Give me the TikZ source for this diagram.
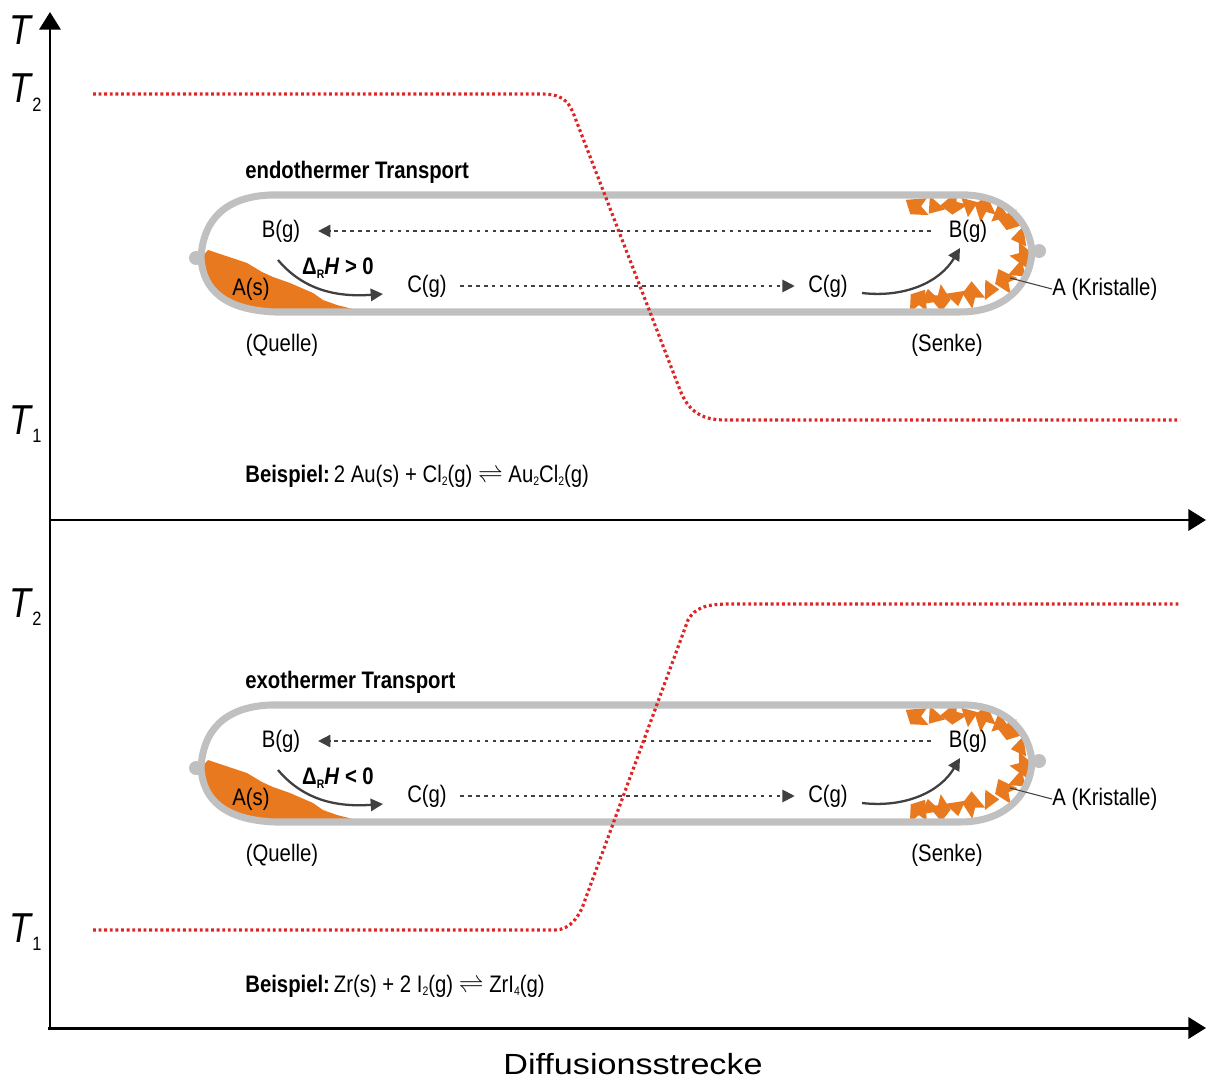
\documentclass[tikz,border=0pt]{standalone}
\usepackage{fontspec}
\setmainfont{Liberation Sans}[FakeStretch=0.85]
\newfontfamily\axisfont{Liberation Sans}[FakeStretch=1.17]
\usetikzlibrary{arrows.meta, positioning}

\definecolor{tubegray}{RGB}{192,192,192}
\definecolor{crystalorange}{RGB}{232,121,30}
\definecolor{gasgray}{RGB}{64,64,64}
\definecolor{tempred}{RGB}{225,35,35}

\newcommand{\gasfont}{\fontsize{13.6}{16}\selectfont}
\newcommand{\sub}[1]{\raisebox{-0.3ex}{\fontsize{7}{7}\selectfont #1}}
\newcommand{\Tlab}[1]{\textit{T}\kern-0.5pt\raisebox{-0.2em}{\fontsize{11}{11}\selectfont #1}}

\begin{document}
\begin{tikzpicture}[
    x=0.02cm, y=-0.02cm,
    tube/.style={draw=tubegray, line width=4pt, line join=round},
    knob/.style={fill=tubegray},
    gas/.style={font=\gasfont, inner sep=0pt},
    crystal/.style={fill=crystalorange},
    flow/.style={draw=gasgray, line width=1.1pt, dash pattern=on 2pt off 2.5pt, -{Triangle[length=7pt,width=7pt]}},
    react/.style={draw=gasgray, line width=1.3pt, -{Triangle[length=7pt,width=7pt]}},
    axis/.style={draw=black, line width=1.7pt, -{Triangle[length=10pt,width=12pt]}},
    temp/.style={draw=tempred, line width=1.8pt, dash pattern=on 1.6pt off 1.6pt},
    Tlabel/.style={font=\fontsize{23.8}{26}\selectfont, inner sep=0pt, anchor=base west}
]
\useasboundingbox (0,0) rectangle (1206,1081);

% axes
\draw[axis] (50,1030) -- (50,12);
\draw[axis] (50,520) -- (1206,520);
\draw[axis] (48,1028) -- (1206,1028);
\node[Tlabel] (T) at (9,45) {\textit{T}};
\node[Tlabel] (T2a) at (9,103) {\Tlab{2}};
\node[Tlabel] (T1a) at (9,434) {\Tlab{1}};
\node[Tlabel] (T2b) at (9,617) {\Tlab{2}};
\node[Tlabel] (T1b) at (9,942) {\Tlab{1}};
\node[font=\axisfont\fontsize{16.6}{18}\selectfont, inner sep=0pt, anchor=base] (x) at (633,1074) {Diffusionsstrecke};

% both ampoules
\foreach \dy/\sgn/\kind/\reaction in {
    0/>/endothermer/{2 Au(s) + Cl\sub{2}(g) $\rightleftharpoons$ Au\sub{2}Cl\sub{2}(g)},
    510/</exothermer/{Zr(s) + 2 I\sub{2}(g) $\rightleftharpoons$ ZrI\sub{4}(g)}}{
\begin{scope}[shift={(0,\dy)}]
  % source material
  \fill[crystal] (208,250) -- (223,255) -- (247,263) -- (262,272) -- (273,277) -- (290,283) -- (313,293)
    -- (323,300) -- (337,305) -- (353,309) -- (275,312) .. controls (225,310) and (203,290) .. (201,258) -- cycle;
  % crystals at the cold end
  \foreach \cx/\cy/\r in {917/206/10, 953/204/45, 985/208/-60, 1010/220/30,
      1022/256/150, 1005/280/-20, 973/294/-45, 940/299/135, 919/301/-80}
    \fill[crystal, shift={(\cx,\cy)}, rotate=\r] (-10,-8) -- (11,-6) -- (4,1) -- (10,11) -- (-8,7) -- cycle;
  \foreach \cx/\cy/\r in {935/207/-30, 969/205/120, 1000/213/80, 1020/238/-70,
      1019/270/60, 990/289/100, 957/297/20, 929/298/200}
    \fill[crystal, shift={(\cx,\cy)}, rotate=\r] (-10,-7) -- (10,-3) -- (-2,9) -- cycle;
  % ampoule
  \draw[tube] (270,195) -- (967,195) .. controls (1010,197) and (1030,225) .. (1032,252)
    .. controls (1030,285) and (1005,312) .. (960,312) -- (275,312)
    .. controls (225,310) and (203,290) .. (201,258)
    .. controls (203,220) and (225,197) .. (270,195) -- cycle;
  \fill[knob] (196,258) circle (7);
  \fill[knob] (1039,251) circle (7);

  \node[gas, font=\gasfont\bfseries, anchor=west] (title) at (245,172) {\kind{} Transport};
  \node[gas] (Bl) at (281,231) {B(g)};
  \node[gas] (As) at (251,289) {A(s)};
  \node[gas] (Cl) at (427,286) {C(g)};
  \node[gas] (Cr) at (828,286) {C(g)};
  \node[gas] (Br) at (968,231) {B(g)};
  \node[gas] (src) at (282,345) {(Quelle)};
  \node[gas] (snk) at (947,345) {(Senke)};
  \node[gas, anchor=west] (Kr) at (1052,289) {A (Kristalle)};
  \node[gas, font=\gasfont\bfseries] (dH) at (338,268) {Δ\sub{R}\textit{H} \sgn{} 0};
  \node[gas, anchor=west] (ex) at (245,476) {\textbf{Beispiel:}\,\reaction};

  \draw[flow, shorten <=10pt, shorten >=10pt] (Br) -- (Bl);
  \draw[flow, shorten <=7.5pt, shorten >=7.5pt] (Cl) -- (Cr);
  \coordinate (hs) at (278,260);
  \coordinate (he) at (383,294);
  \draw[react] (hs) .. controls (305,292) and (340,297) .. (he);
  \coordinate (cs) at (862,293);
  \coordinate (ce) at (960,248);
  \draw[react] (cs) .. controls (905,298) and (940,282) .. (ce);
  \coordinate (kr) at (1010,278);
  \draw[gasgray, line width=0.6pt] (Kr.west) -- (kr);
\end{scope}
}

% temperature profiles
\draw[temp] (93,94) -- (540,94) .. controls (562,94) and (568,100) .. (574,115)
  -- (680,390) .. controls (688,410) and (700,420) .. (725,420) -- (1180,420);
\draw[temp] (93,930) -- (555,930) .. controls (570,930) and (580,916) .. (585,900)
  -- (688,620) .. controls (695,608) and (705,604) .. (730,604) -- (1180,604);
\end{tikzpicture}
\end{document}
